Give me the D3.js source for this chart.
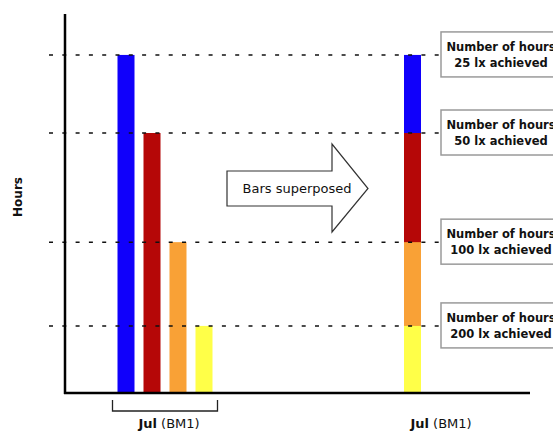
<!DOCTYPE html>
<html>
<head>
<meta charset="utf-8">
<script src="https://cdn.jsdelivr.net/npm/d3@7"></script>
<style>
  html, body { margin: 0; padding: 0; background: #fff; }
  svg { display: block; }
</style>
</head>
<body>
<svg id="chart" width="553" height="433"></svg>
<script>
// ---- data ----
const series = ["25 lx", "50 lx", "100 lx", "200 lx"];
const hours = [89.2, 68.6, 39.8, 17.7];
const colors = ["#1000fb", "#b50707", "#f9a136", "#ffff48"];
const boxLabels = ["25 lx achieved", "50 lx achieved", "100 lx achieved", "200 lx achieved"];
const groups = ["separate", "superposed"];
const groupLabel = "Jul";
const groupSub = "(BM1)";
const arrowText = "Bars superposed";
const yTitle = "Hours";

const svg = d3.select("#chart");
const FONT = "'DejaVu Sans', sans-serif";

const y = d3.scaleLinear().domain([0, 100]).range([393, 14]);
const xGroup = d3.scalePoint().domain(groups).range([165, 412.5]);
const xInner = d3.scaleBand().domain(series).range([-47.5, 47.5]).paddingInner(0.346);
const barW = xInner.bandwidth();

// bars: separate
const gSep = svg.append("g").attr("transform", `translate(${xGroup("separate")},0)`);
gSep.selectAll("rect").data(series).join("rect")
  .attr("x", d => xInner(d))
  .attr("width", barW)
  .attr("y", (d, i) => y(hours[i]))
  .attr("height", (d, i) => y(0) - y(hours[i]))
  .attr("fill", (d, i) => colors[i]);

// bars: superposed (drawn tallest first)
const gSup = svg.append("g").attr("transform", `translate(${xGroup("superposed")},0)`);
gSup.selectAll("rect").data(series).join("rect")
  .attr("x", -barW / 2)
  .attr("width", barW)
  .attr("y", (d, i) => y(hours[i]))
  .attr("height", (d, i) => y(0) - y(hours[i]))
  .attr("fill", (d, i) => colors[i]);

// dashed level lines
svg.append("g").selectAll("line").data(hours).join("line")
  .attr("x1", 49).attr("x2", 440)
  .attr("y1", d => y(d)).attr("y2", d => y(d))
  .attr("stroke", "#111").attr("stroke-width", 1.5)
  .attr("stroke-dasharray", "4,9.3");

// axes
svg.append("line").attr("x1", 65).attr("x2", 65).attr("y1", y(100)).attr("y2", y(0) + 1)
  .attr("stroke", "#000").attr("stroke-width", 2.5);
svg.append("line").attr("x1", 64).attr("x2", 530).attr("y1", y(0)).attr("y2", y(0))
  .attr("stroke", "#000").attr("stroke-width", 2.5);

// y title
svg.append("text")
  .attr("transform", `translate(22,197) rotate(-90)`)
  .attr("text-anchor", "middle")
  .attr("font-family", FONT).attr("font-weight", "bold").attr("font-size", 12)
  .attr("fill", "#111")
  .text(yTitle);

// bracket under separate group
const bx0 = xGroup("separate") + xInner(series[0]) - 5;
const bx1 = xGroup("separate") + xInner(series[3]) + barW + 5;
svg.append("path")
  .attr("d", `M${bx0},400 V411 H${bx1} V400`)
  .attr("fill", "none").attr("stroke", "#222").attr("stroke-width", 1.3);

// group labels
function groupText(cx) {
  const t = svg.append("text").attr("x", cx).attr("y", 428)
    .attr("text-anchor", "middle")
    .attr("font-family", FONT).attr("font-size", 13).attr("fill", "#111");
  t.append("tspan").attr("font-weight", "bold").text(groupLabel);
  t.append("tspan").text(" " + groupSub);
}
groupText(169);
groupText(441);

// arrow
const ay = 188.5;
svg.append("path")
  .attr("d", `M227,${ay - 17.5} H332 V144 L368,${ay} L332,232 V${ay + 17.5} H227 Z`)
  .attr("fill", "#fff").attr("stroke", "#333").attr("stroke-width", 1.2);
svg.append("text").attr("x", 242.5).attr("y", 193)
  .attr("font-family", FONT).attr("font-size", 13).attr("fill", "#111")
  .text(arrowText);

// label boxes
const boxes = svg.append("g").selectAll("g").data(hours).join("g")
  .attr("transform", d => `translate(441,${y(d)})`);
boxes.append("rect")
  .attr("x", 0).attr("y", -23).attr("width", 130).attr("height", 45)
  .attr("fill", "#fff").attr("stroke", "#9a9a9a").attr("stroke-width", 1.5);
boxes.append("text")
  .attr("x", 60).attr("y", -4)
  .attr("text-anchor", "middle")
  .attr("font-family", FONT).attr("font-weight", "bold").attr("font-size", 11.5).attr("fill", "#111")
  .text("Number of hours");
boxes.append("text")
  .attr("x", 60).attr("y", 12)
  .attr("text-anchor", "middle")
  .attr("font-family", FONT).attr("font-weight", "bold").attr("font-size", 11.5).attr("fill", "#111")
  .text((d, i) => boxLabels[i]);
</script>
</body>
</html>
